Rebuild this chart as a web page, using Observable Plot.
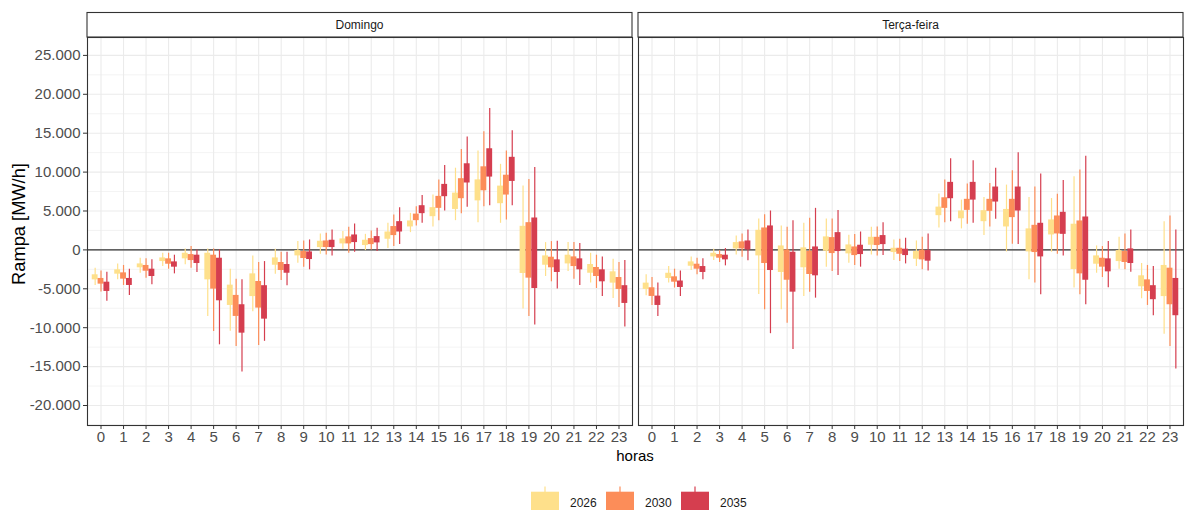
<!DOCTYPE html>
<html><head><meta charset="utf-8">
<script src="https://cdn.jsdelivr.net/npm/d3@7"></script>
<script src="https://cdn.jsdelivr.net/npm/@observablehq/plot@0.6"></script>
<style>
body{margin:0;background:#fff;font-family:"Liberation Sans",Arial,sans-serif;}
#legend svg, #chart svg{display:block;}
</style></head><body><div id="chart"></div><div id="legend"></div>
<script>
const days = ["Domingo", "Terça-feira"];
const years = ["2026", "2030", "2035"];
const colors = ["#FEE08B", "#FC8D59", "#D53E4F"];
const hours = d3.range(24);
const yTicks = [-20000, -15000, -10000, -5000, 0, 5000, 10000, 15000, 20000, 25000];

// each hour: [min, box low, box high, max] in MW/h
const dom2026 = [[-4570,-3850,-3200,-2350],[-3850,-3120,-2560,-1800],[-3000,-2300,-1800,-1070],[-2140,-1500,-1030,-430],[-1920,-1150,-430,130],[-8550,-3850,-430,130],[-10470,-7140,-4530,-2480],[-7950,-6000,-3080,-770],[-3120,-1970,-1030,90],[-1710,-770,-90,1070],[-560,300,1110,2050],[90,770,1410,2350],[-90,560,1240,2000],[170,1370,2300,3420],[2220,2950,3720,4700],[2950,4270,5430,7050],[3760,5200,7300,10500],[3500,6300,9000,12700],[3420,5940,8200,11000],[-7600,-3030,3030,8200],[-3420,-1970,-770,940],[-2780,-1800,-680,940],[-4270,-3000,-1880,-430],[-6240,-4270,-2820,-1200]];
const dom2030 = [[-5400,-4400,-3670,-2700],[-4570,-3760,-2950,-2000],[-3630,-2740,-2000,-1150],[-2480,-1840,-1150,-430],[-2350,-1370,-600,430],[-10500,-5040,-680,130],[-12400,-8550,-5850,-3760],[-12300,-7480,-4060,-1620],[-3930,-2650,-1620,-300],[-2220,-1110,-210,1150],[-640,300,1150,2140],[-430,770,1670,2900],[0,680,1450,2440],[430,1840,3000,4490],[3080,3760,4600,5560],[3760,5340,6880,8970],[4660,6580,9150,12900],[5560,7600,10680,15170],[3850,7050,9600,12700],[-8550,-3630,3500,9060],[-4100,-2300,-940,1070],[-3760,-2140,-900,940],[-4960,-3420,-2260,-680],[-7400,-5080,-3550,-1620]];
const dom2035 = [[-6600,-5340,-4150,-2860],[-5850,-4570,-3670,-2480],[-4490,-3420,-2480,-1280],[-3080,-2220,-1540,-680],[-2900,-1750,-680,0],[-12200,-6540,-1070,0],[-15700,-10700,-7050,-3850],[-11750,-8900,-4600,-1500],[-4600,-3000,-1880,-300],[-2560,-1240,-260,1280],[-770,300,1240,2560],[-300,940,1920,3330],[-210,900,1710,2780],[680,2300,3630,5430],[3420,4660,5680,7000],[5000,6840,8420,10850],[5470,8600,11070,14500],[5680,9360,13000,18160],[5680,8800,11900,15300],[-9660,-4960,4100,10600],[-5040,-2900,-1280,1110],[-4570,-2560,-1150,810],[-5980,-4100,-2560,-900],[-9900,-6880,-4600,-1370]];
const ter2026 = [[-5900,-5080,-4270,-3200],[-4270,-3670,-3000,-2140],[-2650,-2100,-1540,-900],[-1370,-900,-430,90],[-640,130,940,1800],[-5730,-770,2520,3970],[-7700,-2900,510,3080],[-6000,-2300,260,3420],[-2220,-170,1670,3970],[-1710,-510,640,1880],[-640,600,1620,2900],[-1370,-340,210,1280],[-2140,-1200,-210,1150],[2820,4400,5500,7180],[2700,4000,5000,6400],[1840,3630,5040,6750],[-260,2950,5200,8330],[-3850,-260,2700,6750],[-300,1920,3850,6600],[-4900,-2520,3300,9400],[-3000,-1840,-770,510],[-2480,-1500,-90,1620],[-6280,-4740,-3330,-1750],[-10850,-6000,-2000,3630]];
const ter2030 = [[-7140,-5980,-4870,-3550],[-4900,-4150,-3460,-2480],[-3200,-2480,-1840,-1070],[-1620,-1070,-600,-90],[-940,130,1030,2050],[-7700,-1750,2820,4530],[-9440,-3900,0,2900],[-5430,-3160,-170,4060],[-2780,-470,1580,3970],[-2000,-730,380,1970],[-770,560,1620,2950],[-1500,-560,210,1370],[-2560,-1280,-40,1620],[3500,5340,6700,8970],[3300,5080,6500,8460],[2950,4960,6500,8550],[730,4150,6500,10170],[-4270,-340,3160,8100],[-560,2050,4360,7140],[-5770,-3080,3720,10260],[-3550,-2220,-1070,430],[-2560,-1620,-210,2050],[-7140,-5340,-3850,-2000],[-12400,-7050,-2350,4360]];
const ter2035 = [[-8550,-7140,-5940,-4270],[-5980,-4830,-4000,-2700],[-3850,-2900,-2140,-1150],[-2050,-1280,-680,170],[-1410,0,1150,2560],[-10770,-2650,3080,5000],[-12800,-5430,-300,3760],[-6200,-3330,380,5340],[-3300,-210,2220,5080],[-2220,-600,600,2300],[-730,680,1840,3500],[-1800,-730,90,1500],[-2700,-1450,-90,2050],[3630,6580,8680,11700],[3420,6400,8680,11450],[3930,6150,8080,10500],[680,5000,8080,12500],[-5770,-900,3420,9740],[-770,2000,4830,8930],[-7050,-3900,4230,12050],[-4870,-2820,-1150,1070],[-2860,-1750,130,2560],[-8460,-6400,-4600,-2140],[-15300,-8460,-3670,2560]];

const series = {
  "Domingo": [dom2026, dom2030, dom2035],
  "Terça-feira": [ter2026, ter2030, ter2035]
};

const DODGE = 0.26;
const rows = [];
days.forEach(day => {
  series[day].forEach((arr, yi) => {
    arr.forEach((v, h) => {
      rows.push({day, year: years[yi], hour: h, xc: h + (yi - 1) * DODGE,
        lo: v[0], q1: v[1], q3: v[2], hi: v[3]});
    });
  });
});

const loc = d3.formatLocale({decimal: ",", thousands: ".", grouping: [3], currency: ["", ""], minus: "-"});
const fmt = loc.format(",.0f");
const Y0 = -22570, Y1 = 27300;
const minorTicks = yTicks.map(v => v - 2500).concat([yTicks[yTicks.length - 1] + 2500]).filter(v => v > Y0 && v < Y1);

const font = "'Liberation Sans', Arial, sans-serif";
const plot = Plot.plot({
  width: 1186, height: 478,
  marginLeft: 87, marginRight: 3, marginTop: 37, marginBottom: 53,
  style: {fontFamily: font, background: "white", overflow: "visible"},
  fx: {domain: days, paddingInner: 0.011, paddingOuter: 0, axis: null, label: null},
  x: {domain: [-0.6, 23.6], label: null},
  y: {domain: [Y0, Y1], label: null},
  color: {domain: years, range: colors},
  marks: [
    Plot.gridY(minorTicks, {stroke: "#EBEBEB", strokeOpacity: 1, strokeWidth: 0.6}),
    Plot.gridY(yTicks, {stroke: "#EBEBEB", strokeOpacity: 1, strokeWidth: 1.1}),
    Plot.gridX(hours, {stroke: "#EBEBEB", strokeOpacity: 1, strokeWidth: 1.1}),
    Plot.ruleY([0], {stroke: "#333333", strokeWidth: 1.1}),
    Plot.ruleX(rows, {fx: "day", x: "xc", y1: "lo", y2: "hi", stroke: "year", strokeWidth: 1.2}),
    Plot.rect(rows, {fx: "day", x1: d => d.xc - DODGE / 2, x2: d => d.xc + DODGE / 2, y1: "q1", y2: "q3", fill: "year"}),
    Plot.frame({stroke: "#333333", strokeWidth: 1.1}),
    Plot.axisY(yTicks, {tickSize: 4, tickPadding: 3, fontSize: 15, stroke: "#333333", fill: "#4D4D4D", tickFormat: fmt, label: null}),
    Plot.axisX(hours, {tickSize: 4, tickPadding: 2, fontSize: 15, stroke: "#333333", fill: "#4D4D4D", tickFormat: d => String(d), label: null})
  ]
});
document.getElementById("chart").appendChild(plot);

// facet strips and axis titles
const svg = d3.select(plot);
const fx = plot.scale("fx");
days.forEach(day => {
  const left = fx.apply(day);
  const w = fx.bandwidth;
  svg.append("rect").attr("x", left).attr("y", 12.5).attr("width", w).attr("height", 24.5)
    .attr("fill", "white").attr("stroke", "#333333").attr("stroke-width", 1.1);
  svg.append("text").attr("x", left + w / 2).attr("y", 25).attr("text-anchor", "middle")
    .attr("dominant-baseline", "central").attr("font-size", 12).attr("fill", "#1A1A1A")
    .attr("font-family", font).text(day);
});
svg.append("text").attr("transform", "translate(25,224) rotate(-90)").attr("text-anchor", "middle")
  .attr("font-size", 18.3).attr("fill", "black").attr("font-family", font).text("Rampa [MW/h]");
svg.append("text").attr("x", 635).attr("y", 461).attr("text-anchor", "middle")
  .attr("font-size", 15).attr("fill", "black").attr("font-family", font).text("horas");

// legend
const lg = d3.select("#legend").append("svg").attr("width", 1186).attr("height", 32);
years.forEach((yr, i) => {
  const x0 = 531 + i * 75;
  const g = lg.append("g");
  g.append("line").attr("x1", x0 + 14).attr("x2", x0 + 14).attr("y1", 8.5).attr("y2", 32)
    .attr("stroke", colors[i]).attr("stroke-width", 1.2);
  g.append("rect").attr("x", x0).attr("y", 13.7).attr("width", 28).attr("height", 20).attr("fill", colors[i]);
  g.append("text").attr("x", x0 + 39).attr("y", 29).attr("font-size", 12).attr("fill", "#1A1A1A")
    .attr("font-family", font).text(yr);
});
</script></body></html>
